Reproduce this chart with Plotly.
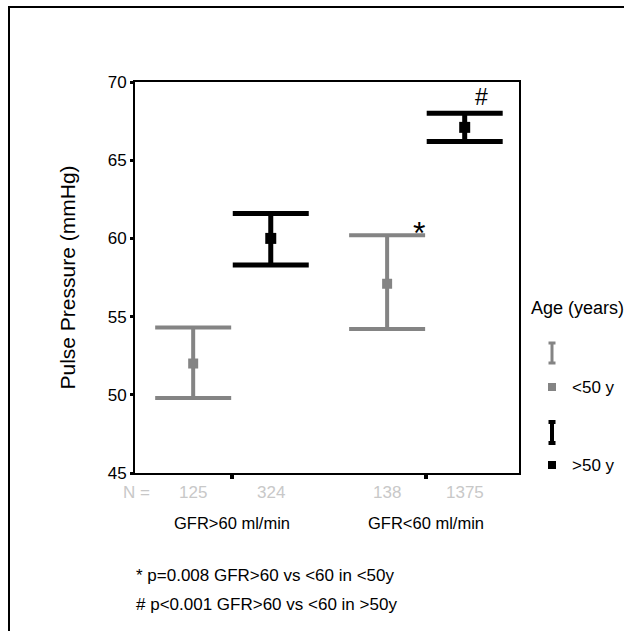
import plotly.graph_objects as go

groups = ["GFR>60 ml/min", "GFR<60 ml/min"]
group_pos = [1, 2]
age_labels = ["<50 y", ">50 y"]

young_mean = [52.0, 57.1]
young_upper = [54.3, 60.2]
young_lower = [49.8, 54.2]
young_n = [125, 138]

old_mean = [60.0, 67.1]
old_upper = [61.6, 68.0]
old_lower = [58.3, 66.2]
old_n = [324, 1375]

sig_marks = ["*", "#"]
footnotes = ["* p=0.008 GFR>60 vs <60 in <50y", "# p<0.001 GFR>60 vs <60 in >50y"]

GRAY = "#848484"
BLACK = "#000000"
NGRAY = "#c8c8c8"
FONT = "Liberation Sans, Arial, sans-serif"
OFF = 0.2

yx = [g - OFF for g in group_pos]
ox = [g + OFF for g in group_pos]

fig = go.Figure()
fig.add_trace(go.Scatter(
    x=yx, y=young_mean, mode="markers",
    marker=dict(symbol="square", size=10, color=GRAY),
    error_y=dict(type="data", symmetric=False,
                 array=[u - m for u, m in zip(young_upper, young_mean)],
                 arrayminus=[m - l for m, l in zip(young_mean, young_lower)],
                 color=GRAY, thickness=4, width=38),
    showlegend=False))
fig.add_trace(go.Scatter(
    x=ox, y=old_mean, mode="markers",
    marker=dict(symbol="square", size=11, color=BLACK),
    error_y=dict(type="data", symmetric=False,
                 array=[u - m for u, m in zip(old_upper, old_mean)],
                 arrayminus=[m - l for m, l in zip(old_mean, old_lower)],
                 color=BLACK, thickness=5, width=38),
    showlegend=False))


def px(v):
    return (v - 135) / 384


def py(v):
    return (473 - v) / 391


ann = []
# N row
ann.append(dict(x=px(136), y=py(492), xref="paper", yref="paper", text="N =", showarrow=False,
                font=dict(size=17, color=NGRAY, family=FONT), xanchor="center", yanchor="middle"))
for xs, ns in ((yx, young_n), (ox, old_n)):
    for x, n in zip(xs, ns):
        ann.append(dict(x=x, y=py(492), xref="x", yref="paper", text=str(n), showarrow=False,
                        font=dict(size=17, color=NGRAY, family=FONT), xanchor="center", yanchor="middle"))
for g, lab in zip(group_pos, groups):
    ann.append(dict(x=g, y=py(523), xref="x", yref="paper", text=lab, showarrow=False,
                    font=dict(size=16.5, color="black", family=FONT), xanchor="center", yanchor="middle"))
# significance marks
ann.append(dict(x=yx[1] + 0.164, y=young_upper[1], xref="x", yref="y", text=sig_marks[0], showarrow=False,
                font=dict(size=32, color="black", family=FONT), xanchor="center", yanchor="middle", yshift=2))
ann.append(dict(x=ox[1] + 0.089, y=old_upper[1], xref="x", yref="y", text=sig_marks[1], showarrow=False,
                font=dict(size=23, color="black", family=FONT), xanchor="center", yanchor="middle", yshift=16))
# y title
ann.append(dict(x=px(67), y=0.5, xref="paper", yref="paper", text="Pulse Pressure (mmHg)",
                textangle=-90, showarrow=False, font=dict(size=21, color="black", family=FONT),
                xanchor="center", yanchor="middle"))
# footnotes
for i, t in enumerate(footnotes):
    ann.append(dict(x=px(134), y=py(575 + 29 * i), xref="paper", yref="paper",
                    text=t, showarrow=False, font=dict(size=17, color="black", family=FONT),
                    xanchor="left", yanchor="middle"))
# legend
ann.append(dict(x=px(529), y=py(308), xref="paper", yref="paper", text="Age (years)", showarrow=False,
                font=dict(size=18, color="black", family=FONT), xanchor="left", yanchor="middle"))
for lab, yy in zip(age_labels, (387, 465)):
    ann.append(dict(x=px(570), y=py(yy), xref="paper", yref="paper", text=lab, showarrow=False,
                    font=dict(size=17, color="black", family=FONT), xanchor="left", yanchor="middle"))

shapes = []
# outer frame
shapes.append(dict(type="rect", xref="paper", yref="paper", x0=px(9), x1=px(700), y0=py(7), y1=py(700),
                   line=dict(color="black", width=2), fillcolor="rgba(0,0,0,0)", layer="below"))
for col, top, bot, sq, lw in ((GRAY, 343, 363, 387, 3), (BLACK, 422, 443, 465, 4)):
    shapes.append(dict(type="line", xref="paper", yref="paper", x0=px(552), x1=px(552), y0=py(top), y1=py(bot),
                       line=dict(color=col, width=lw)))
    for yy in (top, bot):
        shapes.append(dict(type="line", xref="paper", yref="paper", x0=px(548.5), x1=px(555.5), y0=py(yy), y1=py(yy),
                           line=dict(color=col, width=lw)))
    shapes.append(dict(type="rect", xref="paper", yref="paper", x0=px(548), x1=px(556), y0=py(sq - 4), y1=py(sq + 4),
                       line=dict(width=0), fillcolor=col))

fig.update_layout(
    width=624, height=631,
    margin=dict(l=135, r=105, t=82, b=158),
    paper_bgcolor="white", plot_bgcolor="white",
    font=dict(family=FONT, color="black"),
    xaxis=dict(range=[0.5, 2.48], tickvals=group_pos, ticktext=["", ""], ticks="outside", ticklen=4,
               tickwidth=4, tickcolor="black", showline=True, linecolor="black", linewidth=2, mirror=True,
               showgrid=False, zeroline=False),
    yaxis=dict(range=[45, 70], tickvals=[45, 50, 55, 60, 65, 70], ticks="outside", ticklen=3, tickwidth=3,
               tickcolor="black", showline=True, linecolor="black", linewidth=2, mirror=True,
               showgrid=False, zeroline=False, tickfont=dict(size=17, family=FONT, color="black")),
    annotations=ann, shapes=shapes,
)

fig.write_html("out.html")
